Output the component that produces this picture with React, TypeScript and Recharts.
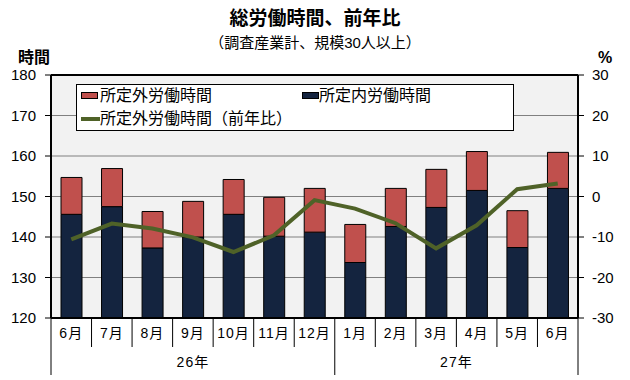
import { Bar, ComposedChart, CartesianGrid, Legend, Line, ReferenceLine, XAxis, YAxis } from "recharts"

const months = ["6月", "7月", "8月", "9月", "10月", "11月", "12月", "1月", "2月", "3月", "4月", "5月", "6月"]
const scheduledHours = [145.6, 147.5, 137.3, 140.0, 145.6, 140.2, 141.2, 133.7, 142.6, 147.3, 151.5, 137.4, 152.0]
const overtimeHours = [9.1, 9.4, 9.0, 8.8, 8.6, 9.6, 10.8, 9.4, 9.4, 9.4, 9.6, 9.1, 8.9]
const overtimeYoY = [-10.6, -6.7, -7.9, -10.1, -13.7, -9.6, -0.9, -3.0, -6.6, -12.8, -7.1, 1.8, 3.2]
const years = ["26年", "27年"]
const leftTicks = [120, 130, 140, 150, 160, 170, 180]
const rightTicks = [-30, -20, -10, 0, 10, 20, 30]

const data = months.map((month, i) => ({
  month,
  scheduled: scheduledHours[i],
  overtime: overtimeHours[i],
  yoy: overtimeYoY[i],
}))

const font = '"Liberation Sans", "Noto Sans CJK JP", sans-serif'
const RED = "#c0504d"
const NAVY = "#14243f"
const GREEN = "#4f6228"
const BAND = 527 / 13

function MonthTick(props: any) {
  const { x, y, payload, index } = props
  const long = index === 6 || index === 12
  return (
    <g>
      {index === 0 && <line x1={x - BAND / 2} x2={x - BAND / 2} y1={y} y2={y + 57} stroke="#000" />}
      <line x1={x + BAND / 2} x2={x + BAND / 2} y1={y} y2={y + (long ? 57 : 29)} stroke="#000" />
      <text x={x} y={y + 15} textAnchor="middle" dominantBaseline="central" fontSize={14} fill="#000" letterSpacing={1}>
        {payload.value}
      </text>
      {index === 3 && (
        <text x={x} y={y + 44} textAnchor="middle" dominantBaseline="central" fontSize={14} fill="#000" letterSpacing={1}>
          {years[0]}
        </text>
      )}
      {index === 9 && (
        <text x={x + BAND / 2} y={y + 44} textAnchor="middle" dominantBaseline="central" fontSize={14} fill="#000" letterSpacing={1}>
          {years[1]}
        </text>
      )}
    </g>
  )
}

function LegendBox(props: any) {
  const items = props.payload || []
  const find = (key: string) => items.find((p: any) => p.dataKey === key)
  const over = find("overtime")
  const sched = find("scheduled")
  const yoy = find("yoy")
  const text = { position: "absolute" as const, fontSize: 16, lineHeight: "22px", whiteSpace: "nowrap" as const, color: "#000" }
  return (
    <div
      style={{
        position: "relative",
        width: 438,
        height: 47,
        background: "#fff",
        border: "1px solid #000",
        boxSizing: "border-box",
        fontFamily: font,
      }}
    >
      <div style={{ position: "absolute", left: 4, top: 7, width: 17, height: 7, background: RED, border: "1px solid #000", boxSizing: "border-box" }} />
      <div style={{ ...text, left: 23, top: 0 }}>{over?.value}</div>
      <div style={{ position: "absolute", left: 225, top: 7, width: 17, height: 7, background: NAVY, border: "1px solid #000", boxSizing: "border-box" }} />
      <div style={{ ...text, left: 242, top: 0 }}>{sched?.value}</div>
      <div style={{ position: "absolute", left: 4, top: 32, width: 19, height: 4, background: GREEN }} />
      <div style={{ ...text, left: 23, top: 23 }}>{yoy?.value}</div>
    </div>
  )
}

export default function App() {
  return (
    <div style={{ position: "absolute", left: 0, top: 0, width: 630, height: 380, background: "#fff", fontFamily: font }}>
      <div style={{ position: "absolute", left: 0, width: 630, top: 6, textAlign: "center", fontSize: 19, fontWeight: "bold", lineHeight: "26px" }}>
        総労働時間、前年比
      </div>
      <div style={{ position: "absolute", left: 0, width: 630, top: 33, textAlign: "center", fontSize: 15, lineHeight: "20px" }}>
        （調査産業計、規模30人以上）
      </div>
      <div style={{ position: "absolute", left: 18, top: 47, fontSize: 16, fontWeight: "bold", lineHeight: "22px" }}>時間</div>
      <div style={{ position: "absolute", left: 598, top: 47, fontSize: 16, fontWeight: "bold", lineHeight: "22px" }}>%</div>
      <ComposedChart
        width={630}
        height={380}
        data={data}
        margin={{ top: 75, right: 0, left: 6, bottom: 0 }}
        barGap={0}
        style={{ position: "absolute", left: 0, top: 0, fontFamily: font }}
      >
        <CartesianGrid yAxisId="left" vertical={false} fill="#f2f2f2" stroke="#808080" />
        <XAxis
          dataKey="month"
          height={62}
          tickLine={false}
          tickSize={0}
          tickMargin={0}
          axisLine={{ stroke: "#000", strokeWidth: 2 }}
          tick={<MonthTick />}
          interval={0}
        />
        <YAxis
          yAxisId="left"
          width={45}
          domain={[120, 180]}
          ticks={leftTicks}
          allowDataOverflow
          tickSize={6}
          tickMargin={9}
          axisLine={{ stroke: "#000", strokeWidth: 2 }}
          tickLine={{ stroke: "#000" }}
          tick={{ fill: "#000", fontSize: 15 }}
        />
        <YAxis
          yAxisId="right"
          orientation="right"
          width={52}
          domain={[-30, 30]}
          ticks={rightTicks}
          tickSize={6}
          tickMargin={8}
          axisLine={{ stroke: "#000", strokeWidth: 2 }}
          tickLine={{ stroke: "#000" }}
          tick={{ fill: "#000", fontSize: 15 }}
        />
        <ReferenceLine yAxisId="left" y={180} stroke="#000" strokeWidth={2} />
        <Legend
          layout="horizontal"
          verticalAlign="middle"
          align="center"
          wrapperStyle={{ left: 76, top: 84, width: 438, height: 47 }}
          content={<LegendBox />}
        />
        <Bar yAxisId="left" dataKey="scheduled" name="所定内労働時間" stackId="h" fill={NAVY} stroke="#000" strokeWidth={1} barSize={21} isAnimationActive={false} />
        <Bar yAxisId="left" dataKey="overtime" name="所定外労働時間" stackId="h" fill={RED} stroke="#000" strokeWidth={1} barSize={21} isAnimationActive={false} />
        <Line yAxisId="right" dataKey="yoy" name="所定外労働時間（前年比）" type="linear" stroke={GREEN} strokeWidth={4} dot={false} isAnimationActive={false} />
      </ComposedChart>
    </div>
  )
}
